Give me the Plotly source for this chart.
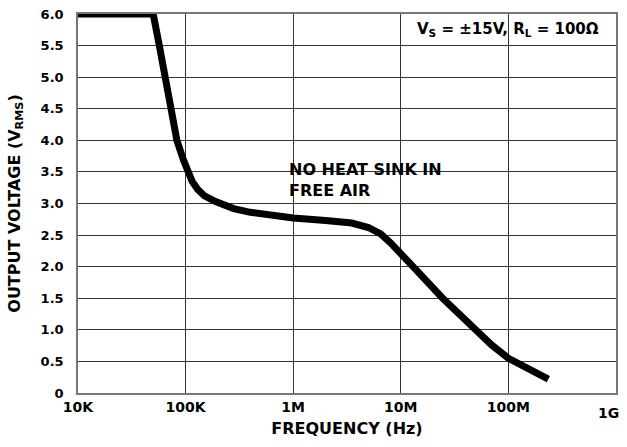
import plotly.graph_objects as go

# Data
freq_hz = [1e4, 5e4, 5.7e4, 6.4e4, 7.3e4, 8.3e4, 9.5e4, 1.05e5, 1.15e5, 1.3e5,
           1.5e5, 1.9e5, 2.8e5, 4e5, 6e5, 1e6, 2e6, 3.5e6, 5e6, 6.5e6,
           8e6, 1e7, 1.3e7, 2.45e7, 4.9e7, 7e7, 1e8, 1.5e8, 2.35e8]
vout_rms = [6.0, 6.0, 5.5, 5.0, 4.5, 4.0, 3.7, 3.5, 3.35, 3.22,
            3.12, 3.03, 2.92, 2.86, 2.81, 2.77, 2.73, 2.69, 2.62, 2.52,
            2.38, 2.22, 2.0, 1.5, 1.0, 0.76, 0.55, 0.38, 0.22]

x_tickvals = [1e4, 1e5, 1e6, 1e7, 1e8, 1e9]
x_ticktext = ["10K", "100K", "1M", "10M", "100M", "1G"]
y_tickvals = [0, 0.5, 1.0, 1.5, 2.0, 2.5, 3.0, 3.5, 4.0, 4.5, 5.0, 5.5, 6.0]
y_ticktext = ["0", "0.5", "1.0", "1.5", "2.0", "2.5", "3.0", "3.5", "4.0", "4.5", "5.0", "5.5", "6.0"]

FONT = "DejaVu Sans"

fig = go.Figure()
fig.add_trace(go.Scatter(
    x=freq_hz, y=vout_rms, mode="lines",
    line=dict(color="black", width=7, shape="linear"),
    cliponaxis=False, hoverinfo="skip", showlegend=False,
))

# all but the last x tick label drawn by the axis; last one placed inside the window
x_ticktext_axis = x_ticktext[:-1] + [""]

fig.update_layout(
    width=627, height=447,
    margin=dict(l=78, r=11, t=14, b=54, autoexpand=False),
    paper_bgcolor="white", plot_bgcolor="white",
    font=dict(family=FONT, color="black"),
    xaxis=dict(
        type="log", range=[4, 9], automargin=False,
        tickvals=x_tickvals, ticktext=x_ticktext_axis,
        tickfont=dict(family=FONT, size=14, weight="bold"),
        showgrid=True, gridcolor="#333", gridwidth=1,
        showline=True, linecolor="#777", linewidth=1.5, mirror=True,
        ticks="", zeroline=False,
        title=dict(text="FREQUENCY (Hz)", font=dict(family=FONT, size=16, weight="bold"), standoff=9),
    ),
    yaxis=dict(
        range=[0, 6.0], automargin=False,
        tickvals=y_tickvals, ticktext=y_ticktext,
        tickfont=dict(family=FONT, size=13, weight="bold"),
        showgrid=True, gridcolor="#333", gridwidth=1,
        showline=True, linecolor="#777", linewidth=1.5, mirror=True,
        ticks="", zeroline=False, ticklabelstandoff=10,
        title=dict(text="OUTPUT VOLTAGE (V<sub>RMS</sub>)", font=dict(family=FONT, size=16, weight="bold"), standoff=16),
    ),
    shapes=[
        dict(type="rect", xref="paper", yref="paper", x0=0.606, x1=0.999, y0=0.90, y1=0.999,
             fillcolor="white", line=dict(width=0), layer="between"),
        dict(type="rect", xref="paper", yref="paper", x0=0.3755, x1=0.706, y0=0.493, y1=0.633,
             fillcolor="white", line=dict(width=0), layer="between"),
    ],
    annotations=[
        dict(xref="paper", yref="paper", x=0.799, y=0.960, xanchor="center", yanchor="middle",
             text="V<sub>S</sub> = ±15V, R<sub>L</sub> = 100Ω", showarrow=False,
             font=dict(family=FONT, size=15, weight="bold", color="black")),
        dict(xref="paper", yref="paper", x=0.388, y=0.562, xanchor="left", yanchor="middle",
             align="left", text="NO HEAT SINK IN<br>FREE AIR", showarrow=False,
             font=dict(family=FONT, size=16, weight="bold", color="black")),
        dict(xref="paper", yref="paper", x=1.01, y=-0.052, xanchor="right", yanchor="middle",
             text=x_ticktext[-1], showarrow=False,
             font=dict(family=FONT, size=14, weight="bold", color="black")),
    ],
)

post = (
    "document.body.style.margin='0';document.body.style.overflow='hidden';"
    "var d=document.getElementsByClassName('plotly-graph-div')[0];"
    "d.style.position='fixed';d.style.top='0px';d.style.left='0px';"
)
fig.write_html("out.html", config={"displayModeBar": False}, post_script=post)
